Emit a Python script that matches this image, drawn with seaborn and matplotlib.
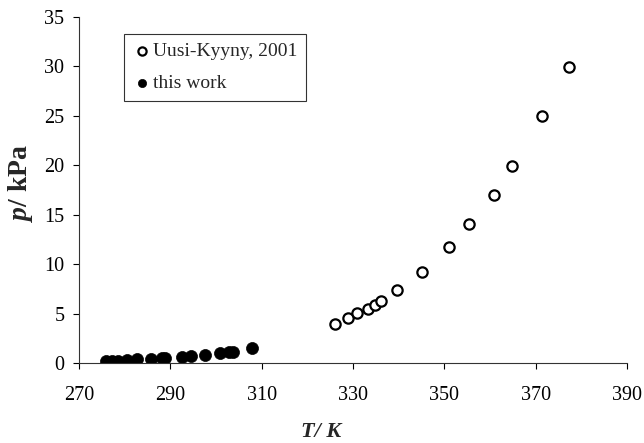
import matplotlib.pyplot as plt
import seaborn as sns

# Literature data (Uusi-Kyyny, 2001)
T_lit = [326.0, 328.8, 330.9, 333.2, 334.9, 336.2, 339.6, 345.1, 351.1,
         355.4, 360.8, 364.8, 371.4, 377.3]
p_lit = [3.97, 4.61, 5.05, 5.52, 5.92, 6.32, 7.40, 9.25, 11.72,
         14.07, 17.03, 19.96, 24.98, 29.93]

# This work
T_this = [275.8, 277.3, 278.6, 280.4, 282.8, 285.7, 288.2, 288.9, 292.5,
          294.5, 297.6, 300.9, 302.9, 303.8, 307.8]
p_this = [0.22, 0.24, 0.27, 0.33, 0.38, 0.45, 0.53, 0.56, 0.62,
          0.70, 0.85, 1.00, 1.10, 1.15, 1.50]

x_ticks = [270, 290, 310, 330, 350, 370, 390]
y_ticks = [0, 5, 10, 15, 20, 25, 30, 35]

sns.set_style("ticks")
plt.rcParams['font.family'] = ['Liberation Serif', 'DejaVu Serif']
plt.rcParams['mathtext.fontset'] = 'custom'
plt.rcParams['mathtext.it'] = 'Liberation Serif:italic:bold'
plt.rcParams['mathtext.rm'] = 'Liberation Serif:bold'

fig = plt.figure(figsize=(6.44, 4.43), dpi=100)
ax = fig.add_axes([0.1227, 0.180, 0.851, 0.782])

sns.scatterplot(x=T_lit, y=p_lit, ax=ax, marker='o', s=55,
                facecolors='white', edgecolor='black', linewidth=1.6,
                label='Uusi-Kyyny, 2001')
sns.scatterplot(x=T_this, y=p_this, ax=ax, marker='o', s=75,
                color='black', edgecolor='black', linewidth=0.5,
                label='this work')

ax.set_xlim(270, 390)
ax.set_ylim(0, 35)
ax.set_xticks(x_ticks)
ax.set_yticks(y_ticks)
ax.tick_params(axis='both', labelsize=14.5, direction='out', length=4.5,
               width=0.8, colors='black')
ax.tick_params(axis='x', pad=12)
ax.tick_params(axis='y', pad=6)
sns.despine(ax=ax)
for sp in ['left', 'bottom']:
    ax.spines[sp].set_linewidth(0.8)
    ax.spines[sp].set_color('#333333')

ax.set_xlabel('T/ K', fontsize=16, fontweight='bold', fontstyle='italic')
ax.set_ylabel('$p$/ kPa', fontsize=20, fontweight='bold')
ax.xaxis.label.set_va('baseline')
ax.yaxis.label.set_va('center')
ax.xaxis.set_label_coords(0.442, -0.212)
ax.yaxis.set_label_coords(-0.106, 0.52)

leg = ax.legend(loc='upper left', bbox_to_anchor=(0.082, 0.951),
                frameon=True, fancybox=False, edgecolor='black',
                fontsize=14, handletextpad=0.05, borderpad=0.45,
                labelspacing=0.75, handlelength=1.0, borderaxespad=0)
leg.get_frame().set_linewidth(0.8)
for h in leg.legend_handles:
    h.set_sizes([35])

fig.savefig('out.png', dpi=100)
